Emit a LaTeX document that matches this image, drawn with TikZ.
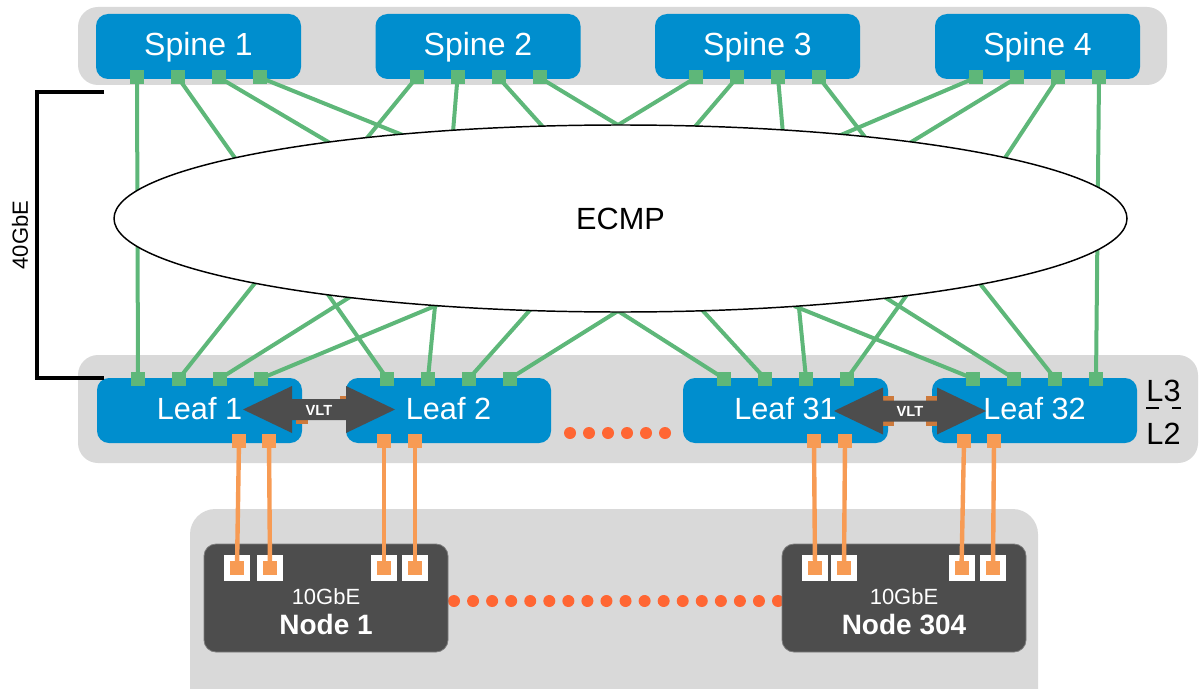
\documentclass[tikz,border=0pt]{standalone}
\usepackage{fontspec}
\setmainfont{Liberation Sans}
\usetikzlibrary{calc,shapes.geometric}

\definecolor{swblue}{RGB}{0,142,206}
\definecolor{bandgray}{RGB}{217,217,217}
\definecolor{linkgreen}{RGB}{94,183,121}
\definecolor{hostorange}{RGB}{247,155,84}
\definecolor{vltorange}{RGB}{205,122,60}
\definecolor{dotred}{RGB}{255,102,51}
\definecolor{nodegray}{RGB}{77,77,77}
\definecolor{nodeedge}{RGB}{125,125,125}

\pgfdeclarelayer{bands}
\pgfdeclarelayer{boxes}
\pgfdeclarelayer{links}
\pgfsetlayers{bands,boxes,links,main}

\tikzset{
  band/.style={fill=bandgray, rounded corners=15pt},
  switchbox/.style={rectangle, rounded corners=9pt, fill=swblue, text=white,
    minimum width=153.75pt, minimum height=48.75pt, inner sep=0pt,
    text height=17.5pt, text depth=4.4pt},
  spinebox/.style={switchbox, font=\fontsize{24}{28}\selectfont},
  leafbox/.style={switchbox, font=\fontsize{23}{27}\selectfont},
  hostbox/.style={rectangle, rounded corners=9pt, fill=nodegray, draw=nodeedge,
    line width=0.6pt, minimum width=183pt, minimum height=81pt, inner sep=0pt},
  gport/.style={rectangle, fill=linkgreen, minimum size=10.5pt, inner sep=0pt},
  hport/.style={rectangle, fill=hostorange, minimum size=10.5pt, inner sep=0pt},
  nic/.style={rectangle, fill=hostorange, draw=white, line width=4.5pt,
    minimum size=15pt, inner sep=0pt},
  vltport/.style={rectangle, fill=vltorange, minimum width=9pt,
    minimum height=18pt, inner sep=0pt},
  uplink/.style={draw=linkgreen, line width=3pt},
  hostlink/.style={draw=hostorange, line width=3.3pt},
  dotmark/.style={fill=dotred},
  vltlink/.pic={
    \fill[nodegray] (-76,0) -- (-27,-23.5) -- (-27,-10.5) -- (27,-10.5)
      -- (27,-23.5) -- (76,0) -- (27,23.5) -- (27,10.5) -- (-27,10.5)
      -- (-27,23.5) -- cycle;
    \node[font=\bfseries\fontsize{11}{12}\selectfont, text=white, inner sep=0pt]
      (-label) at (0,0.5) {VLT};
  }
}

\begin{document}
\begin{tikzpicture}[x=0.75pt, y=-0.75pt]
\useasboundingbox (0,0) rectangle (1201,688);

% grey tiers
\begin{pgfonlayer}{bands}
  \fill[band] (78,7) rectangle (1167,85);
  \fill[band] (78,355) rectangle (1198,463);
  \fill[band, rounded corners=19pt] (190,509) rectangle (1038,720);
\end{pgfonlayer}

% switches, hosts and ellipsis dots
\begin{pgfonlayer}{boxes}
  \foreach \i/\x in {1/198.5, 2/478, 3/757.5, 4/1037.5}
    \node[spinebox] (s\i) at (\x,46.5) {Spine \i};
  \foreach \n/\x in {1/199.5, 2/448.5, 31/785.5, 32/1034.5}
    \node[leafbox] (l\n) at (\x,410.5) {Leaf \n};
  \foreach \k in {0,...,5}
    \fill[dotmark] (570+19*\k,433) circle[radius=4.5pt];
  \foreach \k in {0,...,17}
    \fill[dotmark] (454+19.06*\k,601) circle[radius=4.5pt];
  \node[hostbox] (h1) at (326,598) {};
  \node[hostbox] (h2) at (904,598) {};
\end{pgfonlayer}

% 40GbE fabric ports
\foreach \s in {s1,s2,s3,s4}
  \foreach \p/\dx in {1/-61.5, 2/-20.5, 3/20.5, 4/61.5}
    \node[gport] (\s p\p) at ($(\s.center)+(\dx,31)$) {};
\foreach \s in {l1,l2,l31,l32}
  \foreach \p/\dx in {1/-61.5, 2/-20.5, 3/20.5, 4/61.5}
    \node[gport] (\s p\p) at ($(\s.center)+(\dx,-32)$) {};

% where the fabric links disappear into the ECMP cloud
\foreach \n/\x/\y in {u1/235/158, u2/330/143, u3/400/134, u4/367/138,
    u5/453/132, u6/543/127, u7/618/125, u8/693/129, u9/783/134,
    u10/868/141, u11/835/137.5, u12/908/144, u13/1003/161,
    d1/255/283, d2/350/297, d3/435/306, d4/327/293, d5/530/310,
    d6/618/311, d7/704/312, d8/799/308, d9/906/296, d10/886/298,
    d11/981/285}
  \coordinate (\n) at (\x,\y);

\begin{pgfonlayer}{links}
  \draw[uplink] (s1p1.center) -- (l1p1.center);
  \draw[uplink] (s4p4.center) -- (l32p4.center);
  \foreach \a/\b in {s1p2/u1, s1p3/u2, s1p4/u3, s2p1/u4, s2p2/u5, s2p3/u6,
      s2p4/u7, s3p1/u7, s3p2/u8, s3p3/u9, s3p4/u10, s4p1/u11, s4p2/u12,
      s4p3/u13, l1p2/d1, l1p3/d2, l1p4/d3, l2p1/d4, l2p2/d3, l2p3/d5,
      l2p4/d6, l31p1/d6, l31p2/d7, l31p3/d8, l31p4/d9, l32p1/d8,
      l32p2/d10, l32p3/d11}
    \draw[uplink, shorten >=-4pt] (\a.center) -- (\b);
\end{pgfonlayer}

% ECMP cloud
\node[ellipse, draw, fill=white, line width=1.1pt, inner sep=0pt,
  minimum width=759.75pt, minimum height=140.25pt,
  font=\fontsize{23}{27}\selectfont] (ecmp) at (620.5,218.5) {ECMP};

% VLT interconnects
\node[vltport] (l1v) at ($(l1.east)+(0,1)$) {};
\node[vltport] (l2v) at ($(l2.west)+(0,-3)$) {};
\node[vltport, minimum height=22.5pt] (l31v) at (l31.east) {};
\node[vltport, minimum height=22.5pt] (l32v) at (l32.west) {};
\pic (vltA) at (319,409.5) {vltlink};
\pic (vltB) at (910,411) {vltlink};

% 10GbE host ports
\foreach \s/\dxa/\dxb in {l1/39.5/69.5, l2/-64.5/-33.5, l31/28.5/59.5, l32/-70.5/-40.5} {
  \node[hport] (\s h1) at ($(\s.center)+(\dxa,30.5)$) {};
  \node[hport] (\s h2) at ($(\s.center)+(\dxb,30.5)$) {};
}
\foreach \h/\n/\x in {h1/a/237, h1/b/270, h1/c/384, h1/d/415,
    h2/a/815, h2/b/844, h2/c/961.5, h2/d/993}
  \node[nic] (\h\n) at (\x,568) {};
\foreach \a/\b in {l1h1/h1a, l1h2/h1b, l2h1/h1c, l2h2/h1d,
    l31h1/h2a, l31h2/h2b, l32h1/h2c, l32h2/h2d}
  \draw[hostlink] (\a.center) -- (\b.center);

% host labels
\foreach \h/\x/\name in {h1/326/Node 1, h2/904/Node 304} {
  \node[anchor=base, text=white, inner sep=0pt, font=\fontsize{16.5}{18}\selectfont]
    (\h speed) at (\x,604) {10GbE};
  \node[anchor=base, text=white, inner sep=0pt, font=\bfseries\fontsize{21}{24}\selectfont]
    (\h name) at (\x,634) {\name};
}

% 40GbE bracket
\coordinate (brtop) at (104,92);
\coordinate (brbot) at (104,378);
\draw[line width=2.3pt] (brtop) -- ++(-67,0) |- (brbot);
\node[rotate=90, inner sep=0pt, font=\fontsize{16.5}{18}\selectfont] (fortyg) at (20,235) {40GbE};

% L3 / L2 boundary
\node[anchor=base, inner sep=0pt, font=\fontsize{23}{26}\selectfont] (lthree) at (1163.5,401) {L3};
\node[anchor=base, inner sep=0pt, font=\fontsize{23}{26}\selectfont] (ltwo) at (1163.5,444) {L2};
\draw[line width=1.4pt] (1146,408) -- (1159,408);
\draw[line width=1.4pt] (1172,408) -- (1181,408);
\end{tikzpicture}
\end{document}
